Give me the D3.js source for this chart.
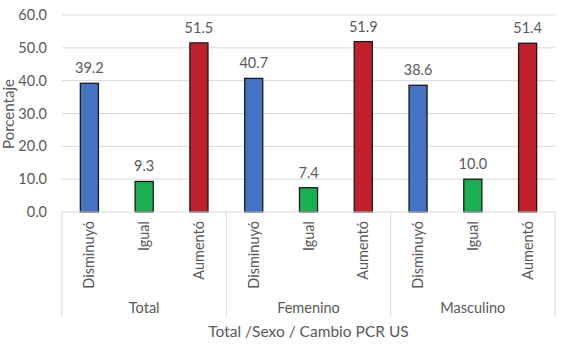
<!DOCTYPE html>
<html><head><meta charset="utf-8">
<script src="https://cdn.jsdelivr.net/npm/d3@7/dist/d3.min.js"></script>
<style>body{margin:0;background:#fff}text{font-family:Lato,"Open Sans",sans-serif;fill:#595959}</style>
</head><body>
<svg id="c" width="575" height="344"></svg>
<script>
const groups = ["Total","Femenino","Masculino"];
const categories = ["Disminuyó","Igual","Aumentó"];
const values = [[39.2,9.3,51.5],[40.7,7.4,51.9],[38.6,10.0,51.4]];
const colors = ["#4472C4","#1AAF50","#C0202A"];
const yTicks = [0,10,20,30,40,50,60];

const svg = d3.select("#c");
const L=62,R=555,T=15,B=212;
const y = d3.scaleLinear().domain([0,60]).range([B,T]);
const items = [];
groups.forEach((g,gi)=>categories.forEach((c,ci)=>items.push({key:g+"|"+c,g,gi,c,ci,v:values[gi][ci]})));
const x = d3.scaleBand().domain(items.map(d=>d.key)).range([L,R]).paddingInner(0.67).paddingOuter(0.335);
const step = (R-L)/items.length;

// gridlines
svg.append("g").selectAll("line").data(yTicks.filter(t=>t>0)).join("line")
 .attr("x1",L).attr("x2",R).attr("y1",d=>y(d)).attr("y2",d=>y(d))
 .attr("stroke","#d9d9d9").attr("stroke-width",1);
// y labels
svg.append("g").selectAll("text").data(yTicks).join("text")
 .attr("x",47).attr("y",d=>y(d)).attr("dy","0.35em").attr("text-anchor","end")
 .attr("font-size",14.5).text(d=>d.toFixed(1));
svg.append("text").attr("transform","translate(14,114) rotate(-90)")
 .attr("text-anchor","middle").attr("font-size",15).text("Porcentaje");

// bars
svg.append("g").selectAll("rect").data(items).join("rect")
 .attr("x",d=>x(d.key)).attr("width",x.bandwidth())
 .attr("y",d=>y(d.v)).attr("height",d=>B-y(d.v))
 .attr("fill",d=>colors[d.ci]).attr("stroke","#1a1a1a").attr("stroke-width",1.3);
svg.append("g").selectAll("text").data(items).join("text")
 .attr("x",d=>x(d.key)+x.bandwidth()/2).attr("y",d=>y(d.v)-10)
 .attr("text-anchor","middle").attr("font-size",14.5).text(d=>d.v.toFixed(1));

// axis
svg.append("line").attr("x1",L).attr("x2",R).attr("y1",B).attr("y2",B).attr("stroke","#d9d9d9");
const seps = d3.range(groups.length+1).map(i=>L+i*step*categories.length);
svg.append("g").selectAll("line").data(seps).join("line")
 .attr("x1",d=>d).attr("x2",d=>d).attr("y1",B).attr("y2",317).attr("stroke","#d9d9d9");
svg.append("g").selectAll("text").data(items).join("text")
 .attr("transform",d=>`translate(${x(d.key)+x.bandwidth()/2},221) rotate(-90)`)
 .attr("text-anchor","end").attr("dy","0.35em").attr("font-size",14.5).text(d=>d.c);
svg.append("g").selectAll("text").data(groups).join("text")
 .attr("x",(d,i)=>(seps[i]+seps[i+1])/2).attr("y",308).attr("dy","0.35em")
 .attr("text-anchor","middle").attr("font-size",14.5).text(d=>d);
svg.append("text").attr("x",(L+R)/2).attr("y",332).attr("dy","0.35em")
 .attr("text-anchor","middle").attr("font-size",15.5).text("Total /Sexo / Cambio PCR US");
</script>
</body></html>
